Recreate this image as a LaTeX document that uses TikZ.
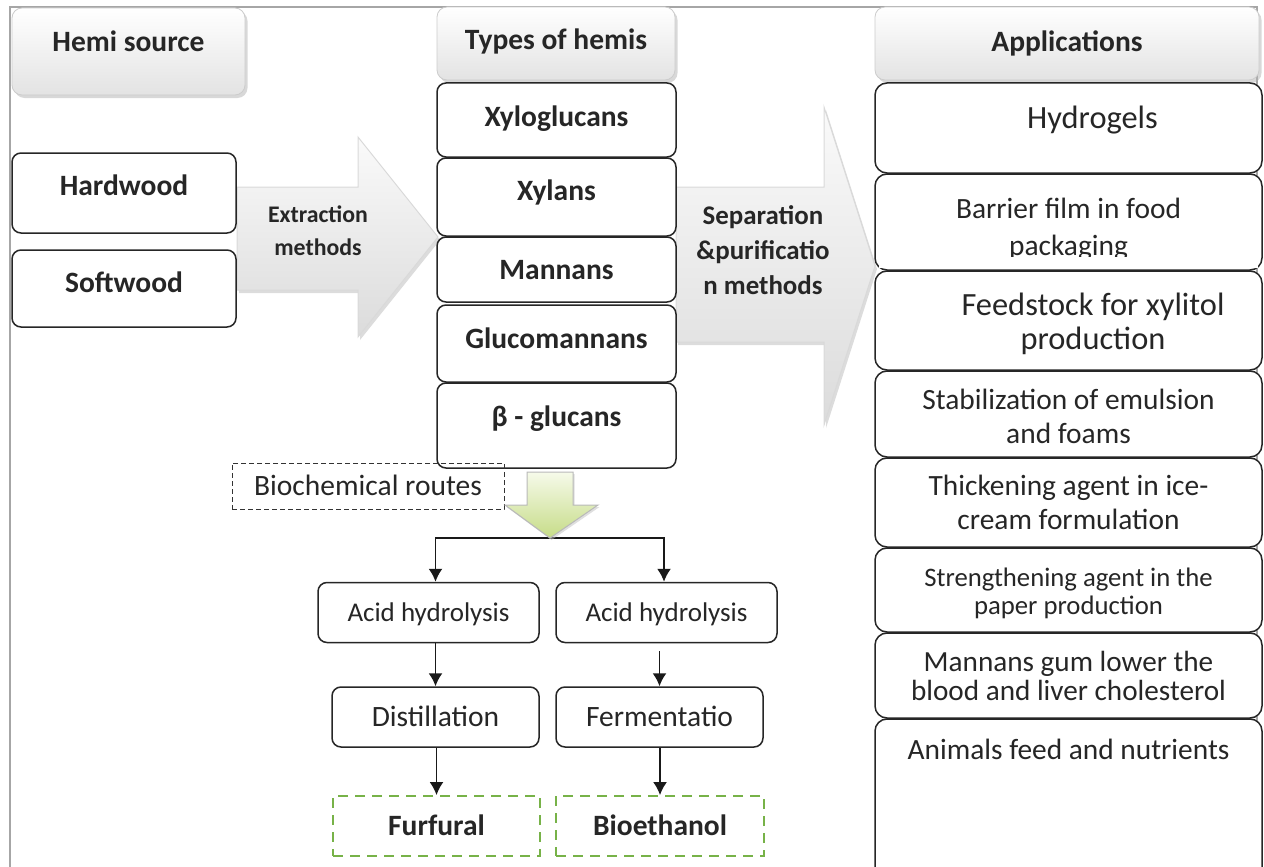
\documentclass[tikz,border=0pt]{standalone}
\usepackage{fontspec}
\setmainfont{Carlito}
\usetikzlibrary{arrows.meta,shadows}
\definecolor{endgreen}{RGB}{119,178,72}
\definecolor{routetop}{RGB}{246,250,234}
\definecolor{routebot}{RGB}{198,220,135}

\begin{document}
\begin{tikzpicture}[x=1pt,y=-1pt,>={Latex[length=13pt,width=14pt]},line width=1.5pt,
  text=black!85,
  head node/.style={rounded corners=10pt,draw=gray!40,line width=0.8pt,top color=white,
    bottom color=gray!22,drop shadow={shadow xshift=2.5pt,shadow yshift=-3pt,fill=gray!60},
    inner sep=0pt,font=\fontsize{29.5}{34}\selectfont\bfseries},
  main node/.style={rounded corners=9pt,draw=black!85,fill=white,inner sep=0pt,
    font=\fontsize{29.5}{34}\selectfont\bfseries},
  app node/.style={rounded corners=12pt,draw=black!85,fill=white,inner sep=0pt,
    minimum width=387,align=center,font=\fontsize{29.4}{34}\selectfont},
  step node/.style={rounded corners=9pt,draw=black!85,fill=white,inner sep=0pt,
    minimum height=60,text height=18.5pt,text depth=0pt,font=\fontsize{29.5}{34}\selectfont},
  end node/.style={draw=endgreen,dash pattern=on 10pt off 7pt,line width=1.8pt,inner sep=0pt,
    minimum height=60,text height=18.5pt,text depth=0pt,font=\fontsize{29.5}{34}\selectfont\bfseries},
  route node/.style={draw=black!80,line width=0.9pt,dash pattern=on 5pt off 3pt,inner sep=0pt,
    text height=18.5pt,text depth=0pt,font=\fontsize{29.5}{34}\selectfont},
  big arrow/.style={draw=gray!30,line width=1pt,top color=gray!4,bottom color=gray!28,
    drop shadow={shadow xshift=2pt,shadow yshift=-3pt,fill=gray!55}},
  flow/.style={->,draw=black!90,line width=1.8pt},
  lift/.style={text height=21pt,text depth=#1}]

  \useasboundingbox (0,0) rectangle (1264,867);
  \draw[gray!70] (10,880) -- (10,7) -- (1257,7) -- (1257,880);

  % block arrows
  \path[big arrow] (237,187) -- (358,187) -- (358,137) -- (438,237) -- (358,337)
    -- (358,290) -- (237,290) -- cycle;
  \node[font=\fontsize{23.8}{33}\selectfont\bfseries,align=center] (extr) at (318,230.5)
    {Extraction\\methods};
  \path[big arrow] (676,187) -- (824,187) -- (824,107) -- (875,266) -- (824,425)
    -- (824,342) -- (676,342) -- cycle;
  \node[font=\fontsize{26.9}{35}\selectfont\bfseries,align=center] (sep) at (763,249.7)
    {Separation\\\&purificatio\\n methods};

  % column heads
  \node[head node,minimum width=233,minimum height=87,lift=21.4pt] (src) at (128.5,51.5) {Hemi source};
  \node[head node,minimum width=238,minimum height=73,lift=9.4pt] (types) at (556,43.5) {Types of hemis};
  \node[head node,minimum width=384,minimum height=73,lift=5.4pt] (apps) at (1067,43.5) {Applications};

  % sources
  \node[main node,minimum width=224,minimum height=80,lift=16.4pt] (hard) at (124,193) {Hardwood};
  \node[main node,minimum width=224,minimum height=77,lift=13.4pt] (soft) at (124,288.5) {Softwood};

  % types
  \node[main node,minimum width=239,minimum height=74,lift=8.4pt] (xylog) at (556.5,120) {Xyloglucans};
  \node[main node,minimum width=239,minimum height=78,lift=14.4pt] (xylan) at (556.5,197) {Xylans};
  \node[main node,minimum width=239,minimum height=65,lift=1.4pt] (mannan) at (556.5,269.5) {Mannans};
  \node[main node,minimum width=239,minimum height=77,lift=11.4pt] (gluman) at (556.5,343.5) {Glucomannans};
  \node[main node,minimum width=239,minimum height=85,lift=19.4pt] (betag) at (556.5,425.5) {β - glucans};

  % applications
  \node[app node,minimum height=90,lift=20.4pt,font=\fontsize{32.4}{34}\selectfont] (hydro)
    at (1068.5,128) {\hspace*{48pt}Hydrogels};
  \node[app node,minimum height=96,font=\fontsize{29.4}{37}\selectfont] (film) at (1068.5,222)
    {\rule{0pt}{35pt}Barrier film in food\\packaging};
  \fill[white] (879,257) rectangle (1258,268);
  \node[app node,minimum height=99,font=\fontsize{32.4}{34}\selectfont] (xylit) at (1068.5,320.5)
    {\rule{0pt}{30pt}\hspace*{49pt}Feedstock for xylitol\\\hspace*{49pt}production};
  \node[app node,minimum height=86] (emuls) at (1068.5,414)
    {\rule{0pt}{24.6pt}Stabilization of emulsion\\and foams};
  \node[app node,minimum height=89] (thick) at (1068.5,502.5)
    {Thickening agent in ice-\\cream formulation};
  \node[app node,minimum height=84,font=\fontsize{26.7}{27.5}\selectfont] (paper) at (1068.5,590)
    {\rule{0pt}{25.4pt}Strengthening agent in the\\paper production};
  \node[app node,minimum height=85,font=\fontsize{29.2}{29}\selectfont] (gum) at (1068.5,675.5)
    {Mannans gum lower the\\blood and liver cholesterol};
  \node[app node,minimum height=161,lift=102pt] (feed) at (1068.5,799.5) {Animals feed and nutrients};

  % biochemical routes
  \node[route node,minimum width=272,minimum height=46] (route) at (368,486) {Biochemical routes};
  \coordinate (fork) at (550,538);
  \node[step node,minimum width=221,text height=17pt,font=\fontsize{27}{32}\selectfont] (acid1)
    at (428.5,612.5) {Acid hydrolysis};
  \node[step node,minimum width=221,text height=17pt,font=\fontsize{27}{32}\selectfont] (acid2)
    at (666.5,612.5) {Acid hydrolysis};
  \node[step node,minimum width=207] (dist) at (435.5,717) {Distillation};
  \node[step node,minimum width=207] (ferm) at (659.5,717) {Fermentatio};
  \node[end node,minimum width=207] (furf) at (436.5,826) {Furfural};
  \node[end node,minimum width=208] (bioeth) at (660,826) {Bioethanol};

  \draw[flow] (fork) -| (acid1.north -| dist.north);
  \draw[flow] (fork) -| ([xshift=-2.5pt]acid2.north);
  \draw[flow] (acid1.south -| dist.north) -- (dist.north);
  \draw[flow,shorten <=8pt] (acid2.south -| ferm.north) -- (ferm.north);
  \draw[flow] (dist.south -| furf.north) -- (furf.north);
  \draw[flow] (ferm.south -| bioeth.north) -- (bioeth.north);

  \path[draw=gray!55,line width=1pt,top color=routetop,bottom color=routebot,
    drop shadow={shadow xshift=1.5pt,shadow yshift=-2pt,fill=gray!50}]
    (527,472) -- (573,472) -- (573,505) -- (598,505) -- (fork) -- (505,505)
    -- (527,505) -- cycle;

\end{tikzpicture}
\end{document}
